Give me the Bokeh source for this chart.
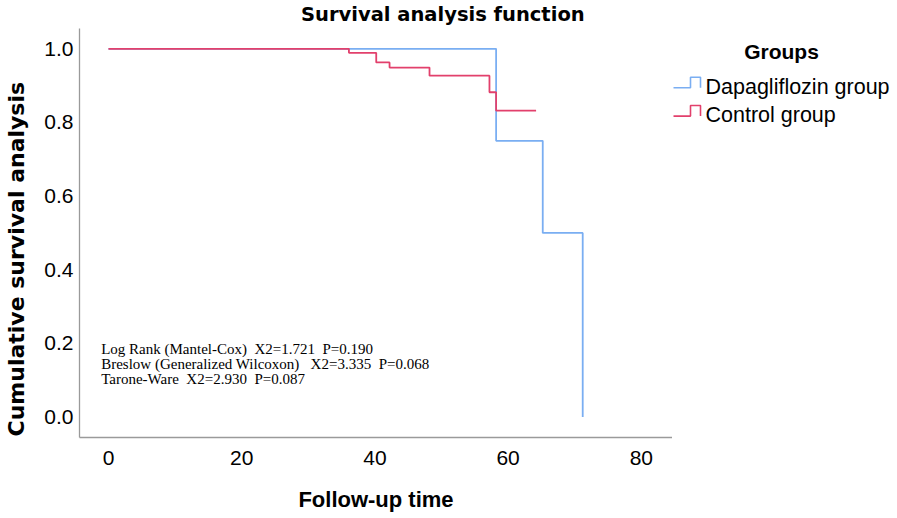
import math
from bokeh.plotting import figure
from bokeh.models import Range1d, FixedTicker, PrintfTickFormatter
from bokeh.layouts import row, column
from bokeh.embed import file_html
from bokeh.resources import INLINE
from bokeh.core.properties import value

# ---------------- data ----------------
dapa_time = [0, 58.2, 65.2, 71.2]
dapa_surv = [1.0, 0.75, 0.50, 0.0]
ctrl_time = [0, 36.1, 40.2, 42.2, 48.2, 57.2, 58.2, 64.2]
ctrl_surv = [1.0, 0.989, 0.963, 0.949, 0.927, 0.882, 0.832, 0.832]
groups = ["Dapagliflozin group", "Control group"]
x_ticks = [0, 20, 40, 60, 80]
y_ticks = [0.0, 0.2, 0.4, 0.6, 0.8, 1.0]
NB = "\u00a0"
stats_lines = [
    "Log Rank (Mantel-Cox)" + NB + " X2=1.721" + NB + " P=0.190",
    "Breslow (Generalized Wilcoxon)" + NB + NB + " X2=3.335" + NB + " P=0.068",
    "Tarone-Ware" + NB + " X2=2.930" + NB + " P=0.087",
]
title_text = "Survival analysis function"
x_label = "Follow-up time"
y_label = "Cumulative survival analysis"
legend_title = "Groups"

BLUE = "#7AAEF2"
RED = "#E2406C"
AXIS = "#9a9a9a"


def panel(w, h, xr, yr):
    f = figure(width=w, height=h, x_range=Range1d(*xr), y_range=Range1d(*yr),
               output_backend="svg", toolbar_location=None, min_border=0,
               x_axis_location=None, y_axis_location=None, title=None)
    f.grid.visible = False
    f.outline_line_color = None
    f.background_fill_color = "white"
    f.border_fill_color = "white"
    return f


# ---------------- title strip ----------------
tfig = panel(897, 28, (0, 897), (28, 0))
tfig.text(x=[300.5], y=[14.0], text=[title_text], text_font=value("DejaVu Sans"),
          text_font_style="bold", text_font_size="19.5px", text_align="left",
          text_baseline="alphabetic", text_color="black")

# ---------------- main plot ----------------
p = figure(width=642, height=487, title=None,
           x_range=Range1d(-4.35, 84.68), y_range=Range1d(-0.0557, 1.0552),
           output_backend="svg", toolbar_location=None,
           min_border_left=49, min_border_right=0,
           min_border_top=0, min_border_bottom=78)
p.grid.visible = False
p.outline_line_color = None
p.background_fill_color = "white"
p.border_fill_color = "white"

p.step(dapa_time, dapa_surv, mode="after", line_color=BLUE, line_width=1.8)
p.step(ctrl_time, ctrl_surv, mode="after", line_color=RED, line_width=1.8)

p.xaxis.ticker = FixedTicker(ticks=x_ticks)
p.yaxis.ticker = FixedTicker(ticks=y_ticks)
p.yaxis.formatter = PrintfTickFormatter(format="%.1f")
for ax in (p.xaxis[0], p.yaxis[0]):
    ax.axis_line_color = AXIS
    ax.axis_line_width = 1.3
    ax.major_tick_line_color = None
    ax.minor_tick_line_color = None
    ax.major_tick_out = 0
    ax.major_tick_in = 0
    ax.minor_tick_out = 0
    ax.minor_tick_in = 0
    ax.major_label_text_font = "Liberation Sans"
    ax.major_label_text_font_size = "21px"
    ax.major_label_text_color = "black"
p.xaxis.major_label_standoff = 13
p.yaxis.major_label_standoff = 6
p.xaxis.axis_label = x_label
p.xaxis.axis_label_text_font = "Liberation Sans"
p.xaxis.axis_label_text_font_style = "bold"
p.xaxis.axis_label_text_font_size = "22px"
p.xaxis.axis_label_text_color = "black"
p.xaxis.axis_label_standoff = 19

stat_y = [0.185, 0.144, 0.103]
p.text(x=[-1.1] * 3, y=stat_y, text=stats_lines, text_font=value("Liberation Serif"),
       text_font_size="15px", text_align="left", text_baseline="alphabetic",
       text_color="black")

# ---------------- side panels (frames aligned with the main frame: page y 28..437) ----
yfig = panel(30, 487, (0, 30), (437, 28))
yfig.text(x=[15.7], y=[436], text=[y_label], angle=math.pi / 2,
          text_font=value("DejaVu Sans"), text_font_style="bold", text_font_size="22px",
          text_align="left", text_baseline="alphabetic", text_color="black")

leg = panel(225, 487, (672, 897), (437, 28))
shape_x = [0, 17, 17, 27, 27]
shape_y = [0, 0, -10.6, -10.6, 0]
for i, col in enumerate([BLUE, RED]):
    base_y = 87.3 + 28.3 * i
    leg.line([673 + sx for sx in shape_x], [base_y + sy for sy in shape_y],
             line_color=col, line_width=1.6)
leg.text(x=[705, 705], y=[86, 114.3], text=groups,
         text_font=value("Liberation Sans"), text_font_size="21.5px",
         text_align="left", text_baseline="alphabetic", text_color="black")
leg.text(x=[781], y=[50.5], text=[legend_title], text_font=value("Liberation Sans"),
         text_font_style="bold", text_font_size="21px", text_align="center",
         text_baseline="alphabetic", text_color="black")

layout = column(tfig, row(yfig, p, leg))
open("out.html", "w").write(file_html(layout, INLINE))
